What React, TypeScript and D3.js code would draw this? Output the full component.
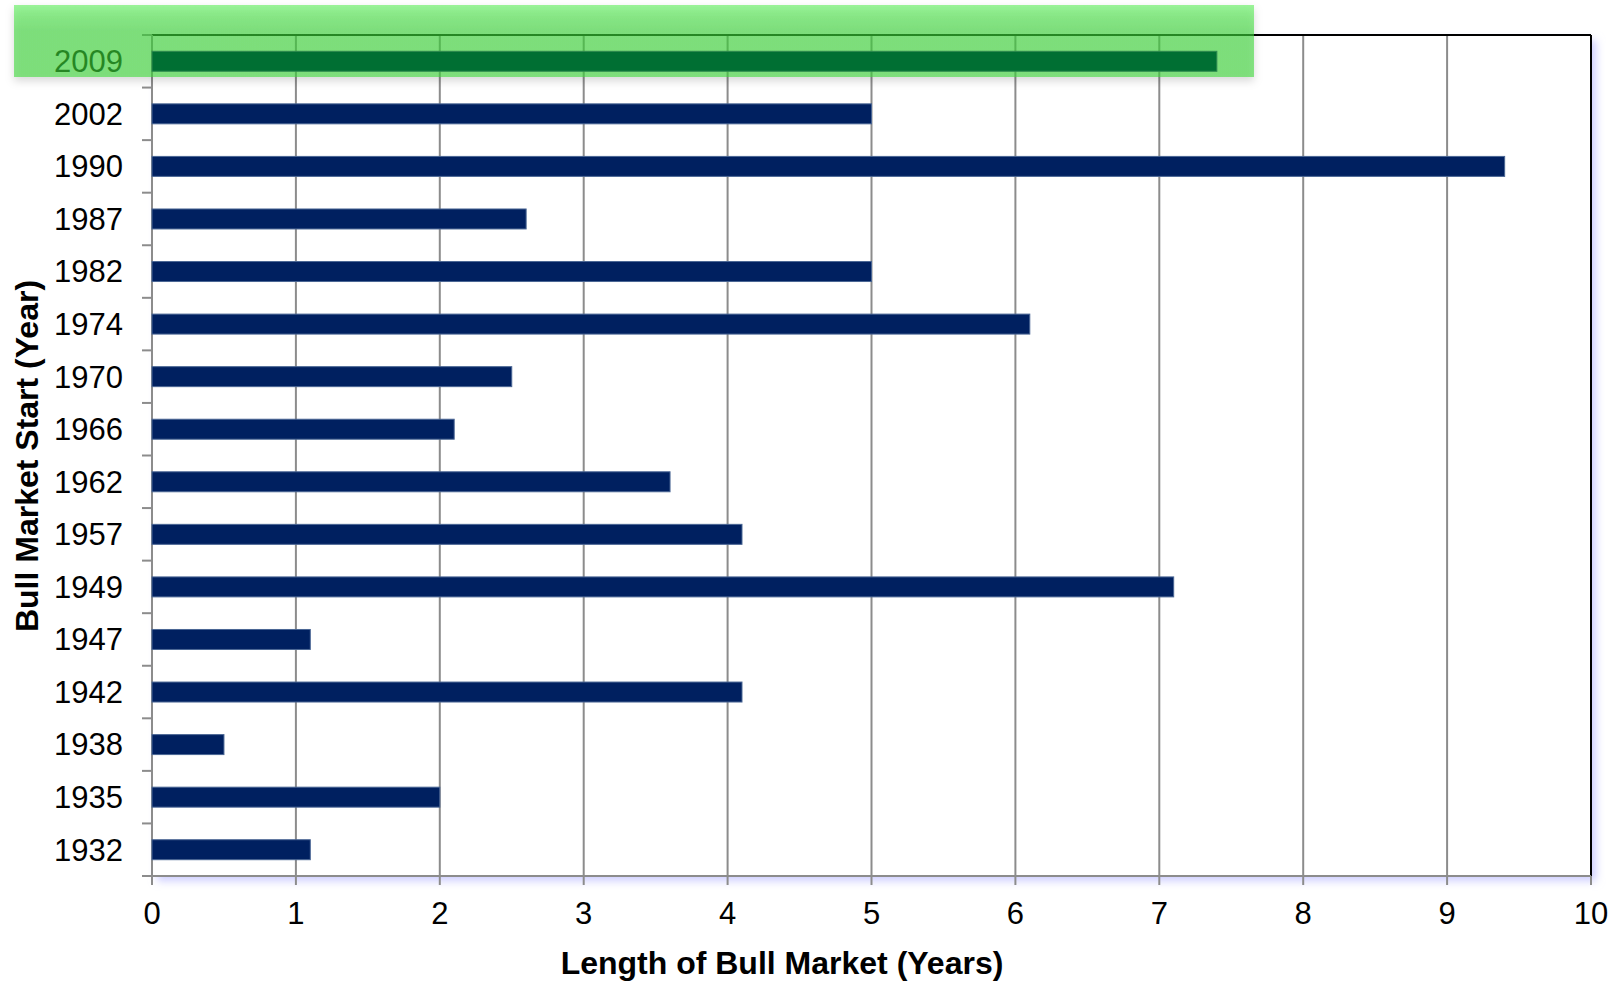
import React from "react";
import * as d3 from "d3";

const years = ["2009", "2002", "1990", "1987", "1982", "1974", "1970", "1966", "1962", "1957", "1949", "1947", "1942", "1938", "1935", "1932"];
const lengths = [7.4, 5.0, 9.4, 2.6, 5.0, 6.1, 2.5, 2.1, 3.6, 4.1, 7.1, 1.1, 4.1, 0.5, 2.0, 1.1];
const xTicks = [0, 1, 2, 3, 4, 5, 6, 7, 8, 9, 10];
const highlightYear = "2009";
const xTitle = "Length of Bull Market (Years)";
const yTitle = "Bull Market Start (Year)";

const W = 1620, H = 982;
const L = 152, R = 1591, T = 35, B = 876;
const FONT = "'Liberation Sans', Arial, sans-serif";

export default function App() {
  const x = d3.scaleLinear().domain([0, 10]).range([L, R]);
  const y = d3.scaleBand<string>().domain(years).range([T, B]).paddingInner(0.62).paddingOuter(0.31);
  const bandOuter = d3.scaleBand<string>().domain(years).range([T, B]);
  return (
    <div style={{ position: "absolute", left: 0, top: 0 }}>
      <svg width={W} height={H} style={{ display: "block" }}>
        <defs>
          <filter id="plotShadow" x="-5%" y="-5%" width="110%" height="110%">
            <feDropShadow dx="5" dy="5" stdDeviation="4" floodColor="#b8b8ff" floodOpacity="0.7" />
          </filter>
          <filter id="hlShadow" x="-5%" y="-50%" width="110%" height="200%">
            <feDropShadow dx="0" dy="4" stdDeviation="4" floodColor="#000" floodOpacity="0.25" />
          </filter>
          <linearGradient id="hlGrad" x1="0" y1="0" x2="0" y2="1">
            <stop offset="0" stopColor="rgb(90,238,87)" />
            <stop offset="0.35" stopColor="rgb(60,213,57)" />
            <stop offset="1" stopColor="rgb(60,213,57)" />
          </linearGradient>
        </defs>
        <rect x={0} y={0} width={W} height={H} fill="#fff" />
        <rect x={L} y={T} width={R - L} height={B - T} fill="#fff" filter="url(#plotShadow)" />
        {xTicks.slice(1, -1).map((t) => (
          <line key={"g" + t} x1={x(t)} x2={x(t)} y1={T} y2={B} stroke="#8c8c8c" strokeWidth={2} />
        ))}
        <line x1={L} x2={R} y1={T} y2={T} stroke="#000" strokeWidth={2} />
        <line x1={R} x2={R} y1={T} y2={B} stroke="#000" strokeWidth={2} />
        <line x1={L} x2={L} y1={T} y2={B + 9} stroke="#8c8c8c" strokeWidth={2} />
        {years.map((yr) => (
          <line key={"yt" + yr} x1={L - 10} x2={L} y1={bandOuter(yr)!} y2={bandOuter(yr)!} stroke="#8c8c8c" strokeWidth={2} />
        ))}
        <line x1={L - 10} x2={L} y1={B} y2={B} stroke="#8c8c8c" strokeWidth={2} />
        <line x1={L - 10} x2={R} y1={B} y2={B} stroke="#8c8c8c" strokeWidth={2} />
        {xTicks.map((t) => (
          <line key={"xt" + t} x1={x(t)} x2={x(t)} y1={B} y2={B + 9} stroke="#8c8c8c" strokeWidth={2} />
        ))}
        {years.map((yr, i) =>
          yr === highlightYear ? null : (
            <rect key={"b" + yr} x={x(0)} y={y(yr)!} width={x(lengths[i]) - x(0)} height={y.bandwidth()} fill="#002060" stroke="#4a6694" strokeWidth={1} />
          )
        )}
        {years.map((yr) => (
          <text key={"yl" + yr} x={123} y={bandOuter(yr)! + bandOuter.bandwidth() / 2} dy="0.35em" textAnchor="end" fontFamily={FONT} fontSize={31} fill="#000">
            {yr}
          </text>
        ))}
        {xTicks.map((t) => (
          <text key={"xl" + t} x={x(t)} y={924} textAnchor="middle" fontFamily={FONT} fontSize={31} fill="#000">
            {t}
          </text>
        ))}
        <rect x={14} y={5} width={1240} height={72} fill="url(#hlGrad)" fillOpacity={0.6} filter="url(#hlShadow)" />
        {years.map((yr, i) =>
          yr === highlightYear ? (
            <rect key={"hb" + yr} x={x(0)} y={y(yr)!} width={x(lengths[i]) - x(0)} height={y.bandwidth()} fill="#006f33" stroke="#2f8a50" strokeWidth={1} />
          ) : null
        )}
        <text x={782} y={974} textAnchor="middle" fontFamily={FONT} fontSize={32} fontWeight="bold" fill="#000">
          {xTitle}
        </text>
        <text transform={`translate(38,456) rotate(-90)`} textAnchor="middle" fontFamily={FONT} fontSize={32} fontWeight="bold" fill="#000">
          {yTitle}
        </text>
      </svg>
    </div>
  );
}
